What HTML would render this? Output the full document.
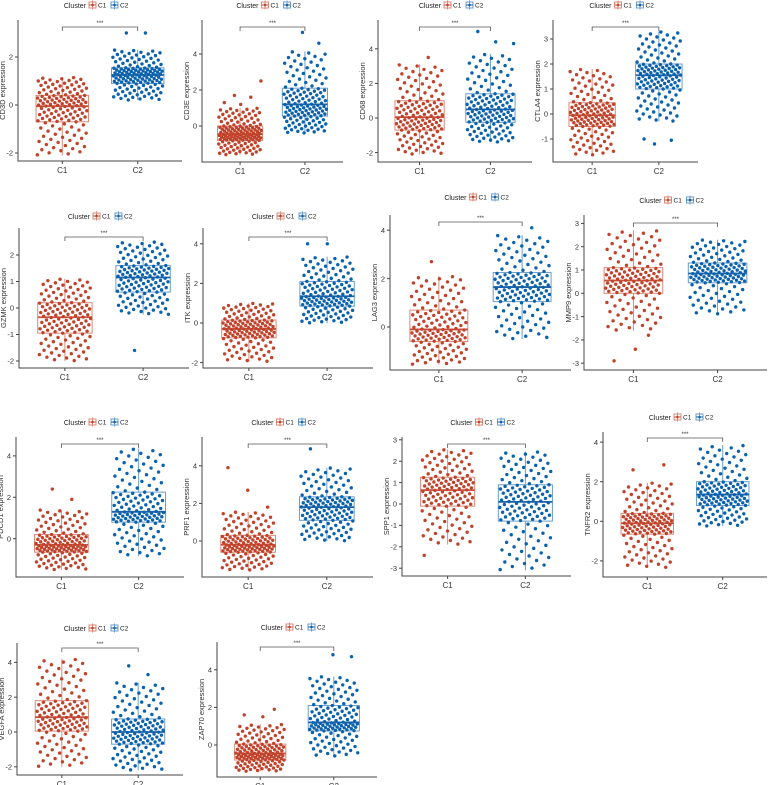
<!DOCTYPE html>
<html><head><meta charset="utf-8"><style>
html,body{margin:0;padding:0;background:#fff;}
svg{display:block;font-family:"Liberation Sans",sans-serif;}
</style></head><body>
<svg id="fig" width="769" height="785" viewBox="0 0 769 785" xmlns="http://www.w3.org/2000/svg"></svg>
<script>
// Per-panel data: gene names, box statistics [whiskerLow, q1, median, q3, whiskerHigh], outliers, y ticks
const genes = ["CD3D","CD3E","CD68","CTLA4","GZMK","ITK","LAG3","MMP9","PDCD1","PRF1","SPP1","TNFR2","VEGFA","ZAP70"];
const c1Stats = [
 [-2.1,-0.7,-0.05,0.4,1.15],[-1.6,-0.8,-0.45,0,1.0],[-2.1,-0.7,0.05,1.0,3.1],[-1.65,-0.5,-0.05,0.45,1.8],
 [-2.0,-0.95,-0.35,0.2,1.1],[-1.95,-0.75,-0.3,0.15,1.0],[-1.55,-0.6,-0.1,0.7,2.1],[-1.6,0.0,0.55,1.1,2.7],
 [-1.5,-0.65,-0.3,0.2,1.4],[-1.55,-0.6,-0.2,0.3,1.55],[-1.9,-0.1,0.65,1.25,2.55],[-2.35,-0.65,-0.1,0.4,1.95],
 [-2.0,0.05,0.85,1.8,4.2],[-1.4,-0.8,-0.45,0.05,1.1]];
const c2Stats = [
 [0.2,0.9,1.25,1.55,2.3],[-0.4,0.55,1.2,2.1,4.15],[-1.4,-0.25,0.5,1.4,3.7],[-0.3,1.0,1.55,2.0,3.3],
 [-0.25,0.6,1.15,1.6,2.5],[0.0,0.85,1.35,2.1,3.35],[-0.5,1.05,1.65,2.25,3.8],[-0.9,0.45,0.85,1.3,2.3],
 [-0.85,0.8,1.3,2.25,4.35],[0.0,1.1,1.8,2.35,3.9],[-3.1,-0.8,0.1,0.9,2.45],[-0.25,0.8,1.35,2.0,3.85],
 [-2.2,-0.7,0.0,0.75,2.85],[-0.6,0.75,1.2,2.1,3.65]];
const c1Out = [[],[1.2,1.3,1.6,1.7,2.5],[3.5],[],[],[],[2.7],[-2.4,-2.9,-1.8],[1.9,2.4],[1.8,2.7,3.9],[-2.4],[2.6,2.85],[],[1.5,1.6,1.9]];
const c2Out = [[3.0,3.0],[4.6,5.2],[4.3,4.4,5.0],[-1.0,-1.05,-1.2],[-1.6],[4.0,4.0],[4.1],[],[],[4.9],[],[],[3.3,3.8],[4.7,4.8]];
const yTicks = [[-2,0,2],[0,2,4],[-2,0,2,4],[-1,0,1,2,3],[-2,-1,0,1,2],[-2,0,2,4],[0,2,4],[-3,-2,-1,0,1,2,3],
 [0,2,4],[0,2,4],[-3,-2,-1,0,1,2,3],[-2,0,2,4],[-2,0,2,4],[0,2,4]];
const groups = ["C1","C2"];

// layout (pixels): L,R,top,bottom, zero px, px per unit, legendY, bracketY
const layout = [
 [18,182,20,161,105,24,5,27],[202,343,20,162,126,18,5,27],[378,532,20,162,118,17.3,5,27],[553,698,20,162,114,25,5,27],
 [19,189,228,368,308,26.5,216,237],[203,373,228,368,323,19.8,216,237],[390,571,215,370,327,24.2,197,222],[584,767,215,370,293.3,23.3,200,223],
 [16,184,437,577,538.7,20.7,422,444],[202,373,437,577,541,18.8,422,444],[402,571,437,576,504,21.4,422,444],[603,767,432,577,521.3,19.8,417,438],
 [17,183,643,775,732,17.4,628,648],[217,377,642,777,745,18.8,627,647]];

const NS="http://www.w3.org/2000/svg";
const svg=document.getElementById('fig');
function mk(tag,attrs,parent){const e=document.createElementNS(NS,tag);for(const k in attrs)e.setAttribute(k,attrs[k]);(parent||svg).appendChild(e);return e;}
const ptCol=["#C1422A","#0A62AE"], boxCol=["#DA8A78","#6C9ECB"], medCol=["#C9513C","#1D62A6"];

function quant(st,p){const ps=[0,0.25,0.5,0.75,1];for(let k=0;k<4;k++){if(p<=ps[k+1]){const t=(p-ps[k])/0.25;return st[k]+t*(st[k+1]-st[k]);}}return st[4];}

genes.forEach((g,i)=>{
 const [L,R,T,B,y0,ppu,legY,brY]=layout[i];
 const yS=v=>y0-v*ppu;
 const xS=gi=>L+(R-L)*(gi===0?0.27:0.73);
 const pan=mk('g',{});
 
 
 const ax=mk('path',{d:`M${L},${T} V${B} H${R}`,stroke:'#444',fill:'none','stroke-width':1},pan);
 
 yTicks[i].forEach(v=>{const y=yS(v);
  mk('line',{x1:L-3,x2:L,y1:y,y2:y,stroke:'#444','stroke-width':1},pan);
  const t=mk('text',{x:L-5,y:y+2.7,'font-size':7.5,'text-anchor':'end',fill:'#333'},pan);t.textContent=v;
  });
 const yl=mk('text',{x:0,y:0,'font-size':7.5,'text-anchor':'middle',fill:'#333',transform:`translate(${L-13},${(T+B)/2}) rotate(-90)`},pan);
 yl.textContent=g+' expression';
 const stats=[c1Stats[i],c2Stats[i]], outs=[c1Out[i],c2Out[i]];
 const hw=(R-L)*0.16;
 groups.forEach((gn,gi)=>{
  const cx=xS(gi), st=stats[gi];
  mk('line',{x1:cx,x2:cx,y1:B,y2:B+3,stroke:'#444'},pan);
  const xt=mk('text',{x:cx,y:B+12,'font-size':8,'text-anchor':'middle',fill:'#333'},pan);xt.textContent=gn;
  
  const bg=mk('g',{},pan);
  mk('line',{x1:cx,x2:cx,y1:yS(st[0]),y2:yS(st[1]),stroke:boxCol[gi]},bg);
  mk('line',{x1:cx,x2:cx,y1:yS(st[3]),y2:yS(st[4]),stroke:boxCol[gi]},bg);
  mk('rect',{x:cx-hw,y:yS(st[3]),width:2*hw,height:yS(st[1])-yS(st[3]),fill:'none',stroke:boxCol[gi],'stroke-width':1},bg);
  mk('line',{x1:cx-hw,x2:cx+hw,y1:yS(st[2]),y2:yS(st[2]),stroke:medCol[gi],'stroke-width':1.8},bg);
  const n=130, pg=mk('g',{fill:ptCol[gi]},pan);
  
  const vals=[];for(let k=0;k<n;k++)vals.push(quant(st,(k+0.5)/n));
  outs[gi].forEach(v=>vals.push(v));
  vals.forEach((v,k)=>{const f=((k*0.6180339+gi*0.31+i*0.17)%1);
   const c=mk('circle',{cx:cx+(f-0.5)*hw*1.9,cy:yS(v),r:1.7},pg);
   });
 });
 const x1=xS(0),x2=xS(1);
 const br=mk('path',{d:`M${x1},${brY+4} V${brY} H${x2} V${brY+4}`,stroke:'#555',fill:'none','stroke-width':0.8},pan);
 
 const st=mk('text',{x:(x1+x2)/2,y:brY-2,'font-size':6,'text-anchor':'middle',fill:'#333'},pan);st.textContent='***';
 
 const lc=(L+R)/2, lg=mk('g',{},pan);
 
 const lt=mk('text',{x:lc-14,y:legY+3,'font-size':7,'text-anchor':'end',fill:'#222'},lg);lt.textContent='Cluster';
 groups.forEach((gn,gi)=>{const bx=lc-11+gi*22;
  mk('rect',{x:bx,y:legY-3,width:7,height:6,fill:'none',stroke:boxCol[gi]},lg);
  mk('line',{x1:bx,x2:bx+7,y1:legY,y2:legY,stroke:medCol[gi]},lg);
  mk('line',{x1:bx+3.5,x2:bx+3.5,y1:legY-4.5,y2:legY+4.5,stroke:boxCol[gi]},lg);
  mk('circle',{cx:bx+3.5,cy:legY,r:1.3,fill:ptCol[gi]},lg);
  const e=mk('text',{x:bx+9,y:legY+2.7,'font-size':6.5,fill:'#222'},lg);e.textContent=gn;
  });
});
</script>
</body></html>
